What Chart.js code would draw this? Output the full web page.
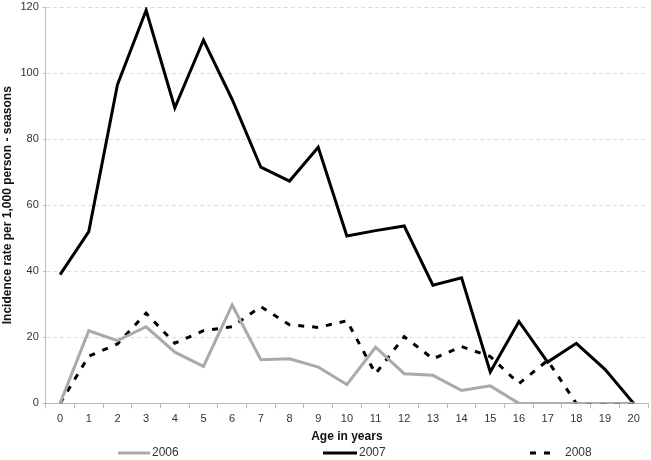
<!DOCTYPE html>
<html>
<head>
<meta charset="utf-8">
<script src="https://cdn.jsdelivr.net/npm/chart.js@4"></script>
<style>
  html, body { margin: 0; padding: 0; background: #fff; }
  #wrap { width: 651px; height: 460px; }
</style>
</head>
<body>
<div id="wrap"><canvas id="lineChart" width="651" height="460"></canvas></div>
<script>
const ages = ['0','1','2','3','4','5','6','7','8','9','10','11','12','13','14','15','16','17','18','19','20'];
const rate2006 = [0, 22, 19, 23.2, 15.5, 11.2, 29.8, 13.2, 13.5, 11, 5.7, 17, 9, 8.5, 3.9, 5.3, 0, 0, 0, 0, 0];
const rate2007 = [39, 52, 96.5, 119, 89.5, 110, 92, 71.5, 67.3, 77.5, 50.7, 52.3, 53.7, 35.8, 38, 9.5, 24.8, 12.5, 18.2, 10.3, 0];
const rate2008 = [0, 14.3, 18, 27.3, 18.2, 22, 23.2, 29.3, 23.8, 23, 25, 9, 20.2, 13.5, 17.2, 14.2, 6, 13, 0, 0, 0];

// legend drawn by hand so the items spread out like the original
const spreadLegend = {
  id: 'spreadLegend',
  afterDraw(chart) {
    const ctx = chart.ctx;
    const spots = [[118, 150], [323, 357], [530, 555]];
    const y = 453;
    ctx.save();
    ctx.font = '12px "Liberation Sans", Arial, sans-serif';
    ctx.textBaseline = 'middle';
    chart.data.datasets.forEach((ds, i) => {
      const [x0, x1] = spots[i];
      ctx.strokeStyle = ds.borderColor;
      ctx.lineWidth = ds.borderWidth;
      ctx.setLineDash(ds.borderDash || []);
      ctx.beginPath();
      ctx.moveTo(x0, y);
      ctx.lineTo(x1, y);
      ctx.stroke();
      ctx.fillStyle = '#333';
      ctx.fillText(ds.label, i === 2 ? x1 + 10 : x1 + 2, y);
    });
    ctx.restore();
  }
};

new Chart(document.getElementById('lineChart'), {
  type: 'line',
  data: {
    labels: ages,
    datasets: [
      { label: '2006', data: rate2006, borderColor: '#aaaaaa', borderWidth: 3, pointRadius: 0, tension: 0 },
      { label: '2007', data: rate2007, borderColor: '#000000', borderWidth: 3, pointRadius: 0, tension: 0 },
      { label: '2008', data: rate2008, borderColor: '#000000', borderWidth: 3, borderDash: [6, 8], pointRadius: 0, tension: 0 }
    ]
  },
  options: {
    responsive: false,
    animation: false,
    layout: { padding: { top: 0, right: 3, bottom: 16, left: 0 } },
    plugins: { legend: { display: false }, tooltip: { enabled: false } },
    scales: {
      x: {
        offset: true,
        grid: { offset: true, drawOnChartArea: false, drawTicks: true, tickLength: 5, color: '#bbbbbb' },
        border: { color: '#bbbbbb' },
        ticks: { color: '#333', font: { family: '"Liberation Sans", Arial, sans-serif', size: 11 }, maxRotation: 0, autoSkip: false, padding: 4 },
        title: { display: true, text: 'Age in years', color: '#111', font: { family: '"Liberation Sans", Arial, sans-serif', size: 12, weight: 'bold' }, padding: { top: 0, bottom: 0 } }
      },
      y: {
        min: 0,
        max: 120,
        afterFit(scale) { scale.paddingTop = 7; },
        ticks: { stepSize: 20, color: '#333', font: { family: '"Liberation Sans", Arial, sans-serif', size: 11 }, padding: 4 },
        grid: { color: '#dddddd', tickLength: 3, tickColor: '#bbbbbb' },
        border: { color: '#bbbbbb', dash: [4, 3] },
        title: { display: true, text: 'Incidence rate per 1,000 person - seasons', color: '#111', font: { family: '"Liberation Sans", Arial, sans-serif', size: 12, weight: 'bold' }, padding: { top: 0, bottom: 2 } }
      }
    }
  },
  plugins: [spreadLegend]
});
</script>
</body>
</html>
